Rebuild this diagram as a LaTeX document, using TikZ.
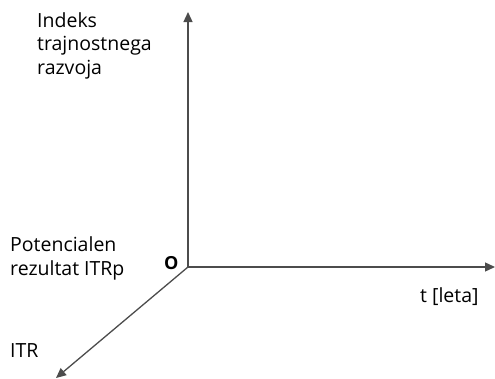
\documentclass[tikz,border=0pt]{standalone}
\usepackage{fontspec}
\setmainfont{Open Sans}
\usetikzlibrary{arrows.meta}
\begin{document}
\begin{tikzpicture}[x=1pt,y=-1pt,
  axis/.style={draw=black!70,line width=1.3pt,-{Triangle[length=10pt,width=9pt]}},
  lbl/.style={anchor=base west,inner sep=0pt,font=\fontsize{19.5}{23.5}\selectfont,align=left}]
\useasboundingbox (0,0) rectangle (495,378);
\coordinate (O) at (188,267);
\coordinate (ytop) at (188,12);
\coordinate (xend) at (495,267);
\coordinate (zend) at (56,378);
\draw[axis] (O) -- (ytop);
\draw[axis] (O) -- (xend);
\draw[axis] (O) -- (zend);
\node[lbl] (ind) at (37,74) {Indeks\\trajnostnega\\razvoja};
\node[lbl] (pot) at (10,275) {Potencialen\\rezultat ITRp};
\node[lbl,font=\fontsize{18}{22}\selectfont\bfseries] (o) at (164,269) {O};
\node[lbl] (itr) at (10,357) {ITR};
\node[lbl] (t) at (420,302) {t [leta]};
\end{tikzpicture}
\end{document}
